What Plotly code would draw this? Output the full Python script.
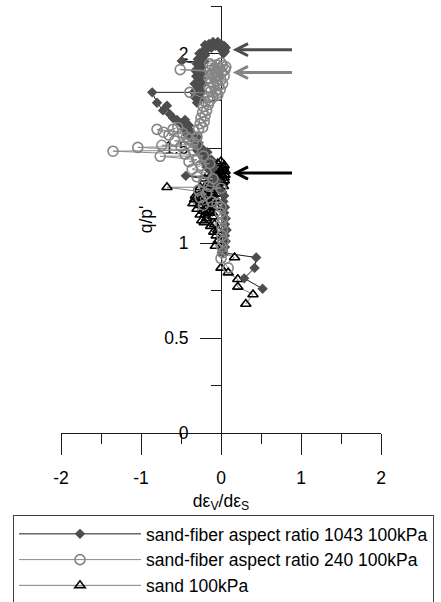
import plotly.graph_objects as go

# ---- data ----
# sand-fiber aspect ratio 1043, 100 kPa
s1_x = [0.52, 0.29, 0.42, 0.44, 0.02,
        0.05, 0.06, 0.05, 0.07, 0.05, 0.06, 0.04, 0.05, 0.03, 0.04, 0.01,
        -0.04, -0.08, -0.05, -0.44, -0.10, -0.13, -0.09, -0.18, -0.15, -0.22, -0.12, -0.20, -0.26,
        -0.17, -0.30, -0.24, -0.33, -0.28, -0.36, -0.30, -0.42, -0.38, -0.45, -0.40, -0.50, -0.45,
        -0.55, -0.60, -0.64, -0.675, -0.725, -0.80, -0.86,
        -0.34, -0.30, -0.25, -0.33, -0.28, -0.23, -0.31, -0.26, -0.22, -0.33, -0.28, -0.24, -0.31,
        -0.27, -0.22, -0.32, -0.28, -0.24, -0.30, -0.49, -0.26, -0.21, -0.29, -0.25, -0.20, -0.27,
        -0.23, -0.18,
        -0.20, -0.15, -0.12, -0.10, -0.07, -0.04, -0.02, 0.00, 0.02, 0.04, 0.05, 0.06, 0.03]
s1_y = [0.76, 0.815, 0.87, 0.925, 0.95,
        0.98, 1.01, 1.04, 1.07, 1.10, 1.13, 1.16, 1.19, 1.22, 1.25, 1.27,
        1.29, 1.31, 1.33, 1.355, 1.35, 1.38, 1.40, 1.40, 1.42, 1.43, 1.44, 1.46, 1.47,
        1.48, 1.49, 1.50, 1.52, 1.53, 1.55, 1.56, 1.57, 1.59, 1.60, 1.62, 1.63, 1.65,
        1.65, 1.66, 1.68, 1.725, 1.70, 1.74, 1.795,
        1.795, 1.74, 1.76, 1.77, 1.78, 1.80, 1.81, 1.82, 1.84, 1.84, 1.855, 1.87, 1.88,
        1.89, 1.90, 1.91, 1.92, 1.93, 1.945, 1.96, 1.955, 1.96, 1.97, 1.98, 1.99, 2.00,
        2.01, 2.02,
        2.045, 2.05, 2.03, 2.06, 2.04, 2.06, 2.03, 2.05, 2.02, 2.04, 2.01, 2.03, 2.00]

# sand-fiber aspect ratio 240, 100 kPa
s2_x = [0.09, 0.00, 0.02, 0.01, 0.03, 0.01, 0.02, 0.00, 0.02, -0.01, 0.00, -0.05, -0.12, -0.22,
        -0.26, -0.18, -0.28, 0.00, -0.15, -0.22, -0.10, -0.30, -0.18, -0.36, -0.25, -0.14, -0.40,
        -0.30, -0.76, -0.22, -0.45, -1.35, -0.35, -1.04, -0.50, -0.74, -0.30, -0.58, -0.40, -0.65,
        -0.48, -0.80, -0.72, -0.60, -0.54, -0.43, -0.35, -0.30,
        -0.28, -0.23, -0.26, -0.21, -0.25, -0.20, -0.23, -0.18, -0.22, -0.16, -0.20, -0.14,
        -0.39, -0.05,
        -0.16, -0.10, -0.04, -0.13, -0.07, -0.01, -0.15, -0.09, -0.03, 0.02, -0.12, -0.06, 0.00,
        -0.15, -0.09, -0.03, 0.04, -0.12, -0.06, 0.01, -0.51, -0.14, -0.08, -0.02, 0.05, -0.11,
        -0.05, 0.02, 0.06, -0.14, 0.00]
s2_y = [0.87, 0.92, 0.95, 0.98, 1.01, 1.04, 1.07, 1.10, 1.13, 1.16, 1.19, 1.21, 1.22, 1.20,
        1.24, 1.26, 1.28, 1.29, 1.30, 1.32, 1.34, 1.35, 1.37, 1.39, 1.41, 1.42, 1.43,
        1.44, 1.458, 1.46, 1.47, 1.485, 1.49, 1.505, 1.51, 1.516, 1.52, 1.54, 1.55, 1.57,
        1.58, 1.60, 1.585, 1.60, 1.61, 1.56, 1.53, 1.56,
        1.60, 1.61, 1.63, 1.64, 1.66, 1.67, 1.69, 1.70, 1.72, 1.73, 1.745, 1.75,
        1.795, 1.79,
        1.77, 1.77, 1.78, 1.80, 1.80, 1.81, 1.82, 1.83, 1.83, 1.84, 1.85, 1.855, 1.86,
        1.87, 1.875, 1.88, 1.88, 1.89, 1.90, 1.90, 1.915, 1.91, 1.92, 1.92, 1.915, 1.935,
        1.94, 1.935, 1.93, 1.945, 1.95]

# sand, 100 kPa
s3_x = [0.31, 0.40, 0.21, 0.21, 0.09, 0.00, 0.17, 0.02, -0.07, -0.04, -0.06, -0.09, -0.04, -0.13,
        -0.08, -0.24, -0.10, -0.16, -0.20, -0.30, -0.12, -0.35, -0.25, -0.05, -0.18, -0.32, -0.10,
        -0.22, -0.675, -0.26, -0.02, -0.14, 0.03, -0.08, -0.20, 0.04, -0.12, -0.02, 0.05, -0.06,
        0.02, -0.15, 0.04, -0.04, 0.00,
        0.03, -0.01, 0.05, -0.09, 0.01, -0.05, 0.04, -0.11, -0.03, 0.02, -0.16, -0.07, -0.19,
        0.00, -0.11, -0.24, -0.04, -0.15, -0.28, -0.08, -0.21, -0.33, -0.13, -0.27, -0.18, -0.06,
        -0.22, -0.14, -0.26, -0.11, -0.18, -0.21]
s3_y = [0.68, 0.73, 0.77, 0.81, 0.845, 0.87, 0.925, 0.95, 0.985, 1.01, 1.04, 1.06, 1.07, 1.09,
        1.10, 1.12, 1.14, 1.16, 1.15, 1.18, 1.19, 1.21, 1.22, 1.22, 1.24, 1.25, 1.26,
        1.27, 1.295, 1.295, 1.29, 1.31, 1.30, 1.33, 1.34, 1.33, 1.36, 1.35, 1.36, 1.38,
        1.39, 1.40, 1.41, 1.42, 1.43,
        1.40, 1.38, 1.38, 1.37, 1.36, 1.35, 1.345, 1.33, 1.32, 1.32, 1.32, 1.30, 1.29,
        1.28, 1.28, 1.27, 1.26, 1.25, 1.24, 1.235, 1.23, 1.23, 1.21, 1.20, 1.19, 1.19,
        1.17, 1.17, 1.15, 1.16, 1.13, 1.11]

names = ["sand-fiber aspect ratio 1043 100kPa",
         "sand-fiber aspect ratio 240 100kPa",
         "sand 100kPa"]

# peak-strength arrows (q/p' levels)
arrow_y = [2.02, 1.90, 1.37]
arrow_colors = ["#4d4d4d", "#858585", "#000000"]

x_ticks = [-2, -1, 0, 1, 2]
x_ticktext = ["-2", "-1", "0", "1", "2"]

FONT = "Arial, Liberation Sans, sans-serif"
FS = 17.5

fig = go.Figure()

fig.add_trace(go.Scatter(
    x=s3_x, y=s3_y, mode="lines+markers", name=names[2], legendrank=3,
    line=dict(color="#808080", width=1),
    marker=dict(symbol="triangle-up-open", size=9, color="#000000", line=dict(width=1.6)),
))
fig.add_trace(go.Scatter(
    x=s1_x, y=s1_y, mode="lines+markers", name=names[0], legendrank=1,
    line=dict(color="#1a1a1a", width=1),
    marker=dict(symbol="diamond", size=8, color="#4d4d4d"),
))
fig.add_trace(go.Scatter(
    x=s2_x, y=s2_y, mode="lines+markers", name=names[1], legendrank=2,
    line=dict(color="#8c8c8c", width=1),
    marker=dict(symbol="circle-open", size=10, color="#858585", line=dict(width=1.6)),
))

# arrows drawn as shapes (tip near the axis, tail to the right)
tip_x, tail_x = 0.1875, 0.8875
arm_dx, arm_dy = 0.15, 0.032
for yv, c in zip(arrow_y, arrow_colors):
    fig.add_shape(type="line", xref="x", yref="y", x0=tip_x + 0.02, x1=tail_x, y0=yv, y1=yv,
                  line=dict(color=c, width=3))
    fig.add_shape(type="path", xref="x", yref="y",
                  path=f"M{tip_x + arm_dx},{yv + arm_dy} L{tip_x},{yv} L{tip_x + arm_dx},{yv - arm_dy}",
                  line=dict(color=c, width=3))

fig.update_layout(
    width=441, height=602, autosize=False,
    margin=dict(l=61, r=60, t=6, b=169, pad=0, autoexpand=False),
    paper_bgcolor="white", plot_bgcolor="white",
    font=dict(family=FONT, size=FS, color="black"),
    showlegend=True,
    legend=dict(x=-0.15, y=-0.192, xanchor="left", yanchor="top",
                bordercolor="#404040", borderwidth=1, bgcolor="white",
                font=dict(family=FONT, size=FS, color="black"),
                itemwidth=122, tracegroupgap=0),
    xaxis=dict(range=[-2, 2], tickmode="array", tickvals=x_ticks, ticktext=x_ticktext,
               showgrid=False, zeroline=False, layer="below traces",
               showline=True, linecolor="#1a1a1a", linewidth=1,
               ticks="outside", ticklen=21, tickcolor="#1a1a1a", tickwidth=1,
               ticklabelstandoff=8,
               minor=dict(dtick=0.5, tick0=0, ticks="outside", ticklen=10, tickcolor="#1a1a1a",
                          showgrid=False),
               tickfont=dict(family=FONT, size=FS, color="black"),
               title=dict(text="dε<sub>V</sub>/dε<sub>S</sub>", standoff=7,
                          font=dict(family=FONT, size=FS, color="black"))),
    yaxis=dict(range=[0, 2.25], dtick=0.5, tick0=0, showgrid=False, zeroline=False,
               anchor="free", position=0.5, layer="below traces",
               showline=True, linecolor="#1a1a1a", linewidth=1,
               ticks="outside", ticklen=21, tickcolor="#1a1a1a", tickwidth=1,
               ticklabelstandoff=8,
               minor=dict(dtick=0.25, tick0=0, ticks="outside", ticklen=10, tickcolor="#1a1a1a",
                          showgrid=False),
               tickfont=dict(family=FONT, size=FS, color="black"),
               title=dict(text="q/p'", standoff=6,
                          font=dict(family=FONT, size=FS, color="black"))),
)

fig.write_html("out.html")
